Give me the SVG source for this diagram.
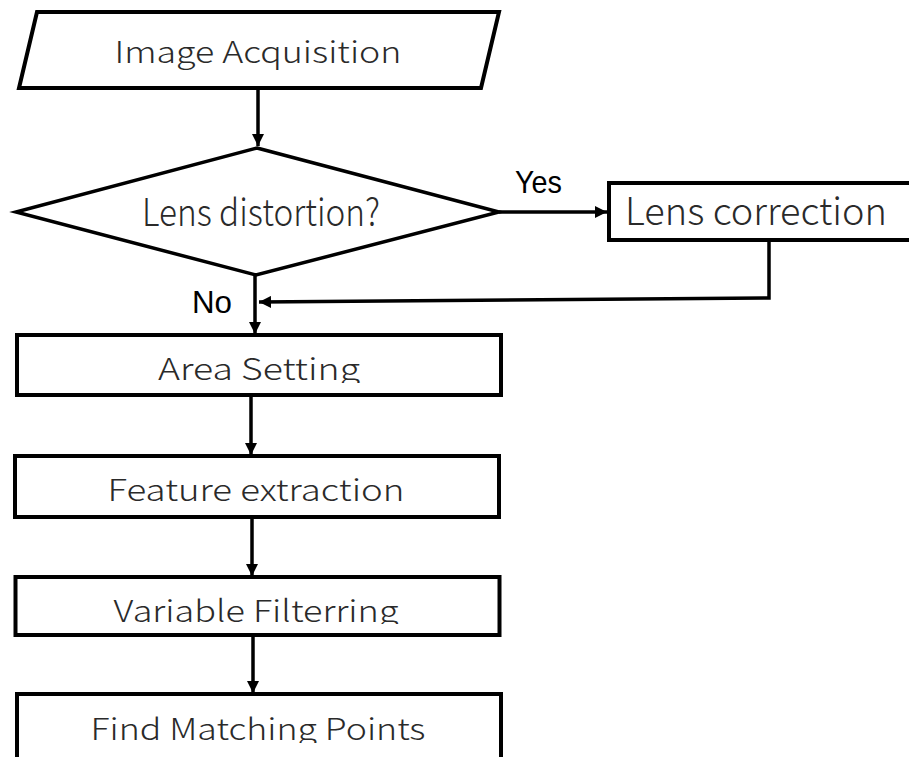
<svg xmlns="http://www.w3.org/2000/svg" width="909" height="757" viewBox="0 0 909 757">
  <style>
    .shape { fill: #ffffff; stroke: #000000; stroke-width: 4; stroke-linejoin: miter; }
    .diamond { fill: #ffffff; stroke: #000000; stroke-width: 3.5; }
    .wire { fill: none; stroke: #000000; stroke-width: 3.5; }
    .label { font-family: "Noto Sans CJK JP", "Liberation Sans", sans-serif; font-weight: 300; font-size: 30px; fill: #2a2a2a; text-anchor: middle; }
    .narrow { font-family: "Noto Sans CJK JP", "Liberation Sans", sans-serif; font-weight: 300; font-size: 38px; fill: #2a2a2a; text-anchor: middle; }
    .branch { font-family: "Liberation Sans", "DejaVu Sans", sans-serif; font-size: 32px; fill: #000000; }
  </style>
  <defs>
    <marker id="arrow" viewBox="0 0 12 12" refX="12" refY="6" markerWidth="12" markerHeight="12" markerUnits="userSpaceOnUse" orient="auto">
      <path d="M0,0 L12,6 L0,12 Z" fill="#000000"/>
    </marker>
    <clipPath id="clipArea"><rect x="0" y="330" width="520" height="53"/></clipPath>
    <clipPath id="clipVar"><rect x="0" y="572" width="520" height="52"/></clipPath>
    <clipPath id="clipFind"><rect x="0" y="690" width="520" height="53"/></clipPath>
  </defs>

  <rect width="909" height="757" fill="#ffffff"/>

  <!-- connectors -->
  <g id="connectors">
    <line class="wire" x1="258" y1="88" x2="258" y2="146" marker-end="url(#arrow)"/>
    <line class="wire" x1="499" y1="212" x2="607" y2="212" marker-end="url(#arrow)"/>
    <polyline class="wire" points="769,242 769,298 259,302" marker-end="url(#arrow)"/>
    <line class="wire" x1="255" y1="275" x2="255" y2="334" marker-end="url(#arrow)"/>
    <line class="wire" x1="251" y1="395" x2="251" y2="455" marker-end="url(#arrow)"/>
    <line class="wire" x1="252" y1="517" x2="252" y2="576" marker-end="url(#arrow)"/>
    <line class="wire" x1="253" y1="635" x2="253" y2="693" marker-end="url(#arrow)"/>
  </g>

  <!-- nodes -->
  <g id="image-acquisition">
    <polygon class="shape" points="37,12 499,12 481,88 19,88"/>
    <text class="label" x="258" y="63" textLength="287" lengthAdjust="spacingAndGlyphs">Image Acquisition</text>
  </g>

  <g id="lens-distortion">
    <polygon class="diamond" points="257,148 499,212 256,275 16,212"/>
    <text class="narrow" x="261" y="226" textLength="238" lengthAdjust="spacingAndGlyphs">Lens distortion?</text>
  </g>

  <g id="lens-correction">
    <rect class="shape" x="609" y="183" width="310" height="57"/>
    <text class="narrow" x="756" y="225" textLength="262" lengthAdjust="spacingAndGlyphs">Lens correction</text>
  </g>

  <g id="branch-labels">
    <text class="branch" x="515" y="193" textLength="47" lengthAdjust="spacingAndGlyphs">Yes</text>
    <text class="branch" x="192" y="313" textLength="40" lengthAdjust="spacingAndGlyphs">No</text>
  </g>

  <g id="area-setting">
    <rect class="shape" x="17" y="335" width="484" height="60"/>
    <text class="label" x="259" y="380" textLength="202" lengthAdjust="spacingAndGlyphs" clip-path="url(#clipArea)">Area Setting</text>
  </g>

  <g id="feature-extraction">
    <rect class="shape" x="15" y="456" width="484" height="61"/>
    <text class="label" x="256" y="501" textLength="297" lengthAdjust="spacingAndGlyphs">Feature extraction</text>
  </g>

  <g id="variable-filtering">
    <rect class="shape" x="15.5" y="577" width="484" height="58"/>
    <text class="label" x="256" y="622" textLength="285" lengthAdjust="spacingAndGlyphs" clip-path="url(#clipVar)">Variable Filterring</text>
  </g>

  <g id="find-matching-points">
    <rect class="shape" x="17" y="694" width="484" height="80"/>
    <text class="label" x="258" y="740" textLength="335" lengthAdjust="spacingAndGlyphs" clip-path="url(#clipFind)">Find Matching Points</text>
  </g>
</svg>
